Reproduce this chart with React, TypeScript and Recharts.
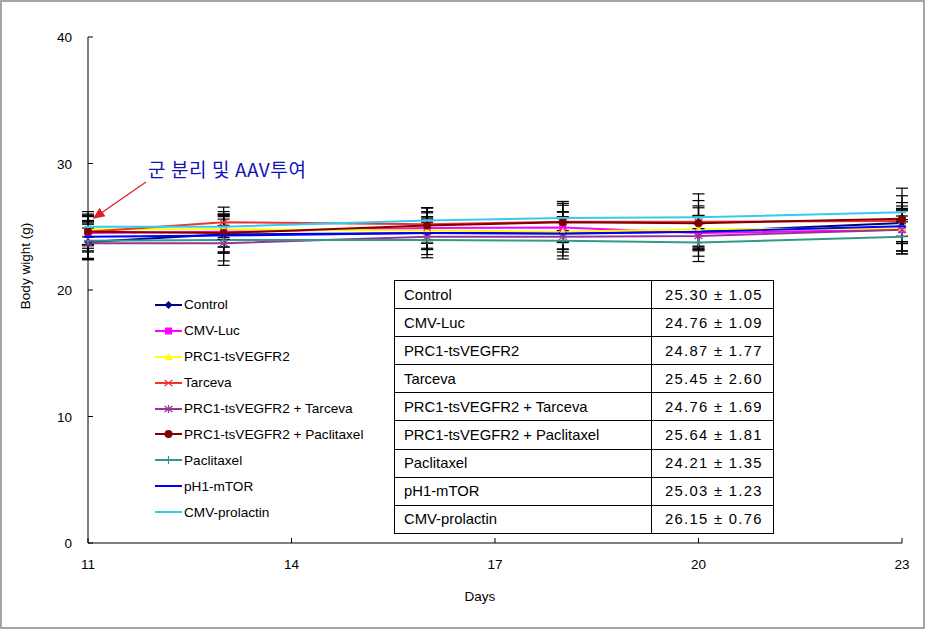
import { LineChart, Line, XAxis, YAxis, ErrorBar } from "recharts";

const days = [11, 13, 16, 18, 20, 23];

const control = [23.8, 24.4, 24.5, 24.5, 24.6, 25.3];
const controlSd = [1.4, 1.5, 1.3, 1.3, 1.3, 1.05];
const cmvLuc = [24.5, 24.6, 24.9, 24.95, 24.5, 24.76];
const cmvLucSd = [1.0, 1.2, 1.2, 1.2, 1.3, 1.09];
const prc1 = [24.8, 24.8, 24.7, 24.6, 24.8, 24.87];
const prc1Sd = [1.2, 1.4, 1.5, 1.6, 1.7, 1.77];
const tarceva = [24.6, 25.35, 25.2, 25.4, 25.4, 25.45];
const tarcevaSd = [1.6, 1.2, 1.3, 1.6, 2.2, 2.6];
const prc1Tarceva = [23.7, 23.7, 24.2, 24.2, 24.27, 24.76];
const prc1TarcevaSd = [1.2, 1.4, 1.4, 1.5, 1.6, 1.69];
const prc1Pac = [24.6, 24.5, 25.1, 25.35, 25.27, 25.64];
const prc1PacSd = [1.3, 1.5, 1.4, 1.5, 1.8, 1.81];
const paclitaxel = [23.9, 23.95, 23.95, 23.9, 23.75, 24.21];
const paclitaxelSd = [1.5, 2.0, 1.4, 1.45, 1.5, 1.35];
const ph1 = [24.2, 24.3, 24.5, 24.45, 24.6, 25.03];
const ph1Sd = [1.1, 1.3, 1.2, 1.2, 1.2, 1.23];
const prolactin = [25.0, 25.0, 25.5, 25.7, 25.75, 26.15];
const prolactinSd = [0.8, 1.0, 1.0, 1.0, 0.9, 0.76];

const tableLabels = [
  "25.30 ± 1.05",
  "24.76 ± 1.09",
  "24.87 ± 1.77",
  "25.45 ± 2.60",
  "24.76 ± 1.69",
  "25.64 ± 1.81",
  "24.21 ± 1.35",
  "25.03 ± 1.23",
  "26.15 ± 0.76",
];

const xTicks = [11, 14, 17, 20, 23];
const yTicks = [0, 10, 20, 30, 40];

const series = [
  { key: "s0", name: "Control", values: control, sd: controlSd, color: "#000080", shape: "diamond" },
  { key: "s1", name: "CMV-Luc", values: cmvLuc, sd: cmvLucSd, color: "#FF00FF", shape: "square" },
  { key: "s2", name: "PRC1-tsVEGFR2", values: prc1, sd: prc1Sd, color: "#FFFF00", shape: "triangle" },
  { key: "s3", name: "Tarceva", values: tarceva, sd: tarcevaSd, color: "#EE3333", shape: "x" },
  { key: "s4", name: "PRC1-tsVEGFR2 + Tarceva", values: prc1Tarceva, sd: prc1TarcevaSd, color: "#993399", shape: "star" },
  { key: "s5", name: "PRC1-tsVEGFR2 + Paclitaxel", values: prc1Pac, sd: prc1PacSd, color: "#800000", shape: "circle" },
  { key: "s6", name: "Paclitaxel", values: paclitaxel, sd: paclitaxelSd, color: "#339988", shape: "plus" },
  { key: "s7", name: "pH1-mTOR", values: ph1, sd: ph1Sd, color: "#0000FF", shape: "dash" },
  { key: "s8", name: "CMV-prolactin", values: prolactin, sd: prolactinSd, color: "#33CCEE", shape: "dash" },
];

const data = days.map((day, i) => {
  const row: Record<string, number> = { day };
  series.forEach((s) => {
    row[s.key] = s.values[i];
    row[s.key + "e"] = s.sd[i];
  });
  return row;
});

const FONT = '"Liberation Sans", Arial, "Noto Sans CJK KR", sans-serif';

function Marker({ cx, cy, shape, color }: any) {
  if (cx == null || cy == null) return null;
  switch (shape) {
    case "diamond":
      return (
        <polygon
          points={`${cx},${cy - 4} ${cx + 4},${cy} ${cx},${cy + 4} ${cx - 4},${cy}`}
          fill={color}
        />
      );
    case "square":
      return <rect x={cx - 3.5} y={cy - 3.5} width={7} height={7} fill={color} />;
    case "triangle":
      return (
        <polygon
          points={`${cx},${cy - 4} ${cx + 4},${cy + 3} ${cx - 4},${cy + 3}`}
          fill={color}
        />
      );
    case "x":
      return (
        <g stroke={color} strokeWidth={1.2}>
          <line x1={cx - 4} y1={cy - 3} x2={cx + 4} y2={cy + 3} />
          <line x1={cx - 4} y1={cy + 3} x2={cx + 4} y2={cy - 3} />
        </g>
      );
    case "star":
      return (
        <g stroke={color} strokeWidth={1.2}>
          <line x1={cx - 4} y1={cy - 3} x2={cx + 4} y2={cy + 3} />
          <line x1={cx - 4} y1={cy + 3} x2={cx + 4} y2={cy - 3} />
          <line x1={cx} y1={cy - 4} x2={cx} y2={cy + 4} />
        </g>
      );
    case "circle":
      return <circle cx={cx} cy={cy} r={4} fill={color} />;
    case "plus":
      return (
        <g stroke={color} strokeWidth={1.2}>
          <line x1={cx} y1={cy - 4} x2={cx} y2={cy + 4} />
          <line x1={cx - 4} y1={cy} x2={cx + 4} y2={cy} />
        </g>
      );
    default:
      return (
        <line x1={cx - 4} y1={cy} x2={cx + 4} y2={cy} stroke={color} strokeWidth={2} />
      );
  }
}

const YTick = ({ x, y, payload }: any) => (
  <g>
    <line x1={x} y1={y} x2={x + 5} y2={y} stroke="#000" />
    <text x={x - 16} y={y + 5} textAnchor="end" fontSize={13.5} fill="#000" fontFamily={FONT}>
      {payload.value}
    </text>
  </g>
);

const XTick = ({ x, y, payload }: any) => (
  <g>
    <line x1={x} y1={y} x2={x} y2={y - 5} stroke="#000" />
    <text x={x} y={y + 26} textAnchor="middle" fontSize={13.5} fill="#000" fontFamily={FONT}>
      {payload.value}
    </text>
  </g>
);

export default function App() {
  return (
    <div
      style={{
        position: "absolute",
        left: 0,
        top: 0,
        width: 925,
        height: 629,
        background: "#fff",
        fontFamily: FONT,
      }}
    >
      <LineChart
        width={925}
        height={629}
        data={data}
        margin={{ top: 37, right: 23, bottom: 56, left: 0 }}
      >
        <XAxis
          type="number"
          dataKey="day"
          domain={[11, 23]}
          ticks={xTicks}
          tickSize={0}
          tickMargin={0}
          tickLine={false}
          tick={<XTick />}
          height={30}
          stroke="#000"
          label={{
            value: "Days",
            position: "insideBottom",
            dy: 33,
            dx: -15,
            fontSize: 13.5,
            fill: "#000",
            fontFamily: FONT,
          }}
        />
        <YAxis
          type="number"
          domain={[0, 40]}
          ticks={yTicks}
          tickSize={0}
          tickMargin={0}
          tickLine={false}
          tick={<YTick />}
          width={88}
          stroke="#000"
          label={{
            value: "Body wight (g)",
            angle: -90,
            position: "insideLeft",
            dx: 20,
            dy: -24,
            fontSize: 13.5,
            fill: "#000",
            fontFamily: FONT,
            style: { textAnchor: "middle" },
          }}
        />
        {series.map((s) => (
          <Line
            key={s.key}
            dataKey={s.key}
            name={s.name}
            stroke={s.color}
            strokeWidth={2}
            isAnimationActive={false}
            dot={(p: any) => (
              <Marker key={`${s.key}-${p.index}`} cx={p.cx} cy={p.cy} shape={s.shape} color={s.color} />
            )}
            activeDot={false}
          >
            <ErrorBar
              dataKey={s.key + "e"}
              direction="y"
              width={6}
              stroke="#000"
              strokeWidth={1.2}
              isAnimationActive={false}
            />
          </Line>
        ))}
      </LineChart>

      {/* annotation */}
      <div
        style={{
          position: "absolute",
          left: 148,
          top: 157,
          fontSize: 19,
          letterSpacing: 0.6,
          color: "#1414B4",
          fontFamily: '"Noto Sans CJK KR", sans-serif',
          whiteSpace: "nowrap",
          lineHeight: "24px",
        }}
      >
        군 분리 및 AAV투여
      </div>
      <svg
        width={925}
        height={629}
        style={{ position: "absolute", left: 0, top: 0, pointerEvents: "none" }}
      >
        <defs>
          <marker id="arr" markerWidth="10" markerHeight="10" refX="8" refY="5" orient="auto">
            <path d="M0,1 L9,5 L0,9 z" fill="#E02020" />
          </marker>
        </defs>
        <line x1={146} y1={182} x2={94} y2={218} stroke="#E02020" strokeWidth={1.3} markerEnd="url(#arr)" />
        <rect x={1} y={1} width={923} height={627} fill="none" stroke="#A6A6A6" strokeWidth={2} />
      </svg>

      {/* legend */}
      <div style={{ position: "absolute", left: 155, top: 292 }}>
        {series.map((s) => (
          <div key={s.key} style={{ height: 25.9, display: "flex", alignItems: "center" }}>
            <svg width={28} height={12}>
              <line x1={0} y1={6} x2={27} y2={6} stroke={s.color} strokeWidth={2} />
              <Marker cx={13.5} cy={6} shape={s.shape} color={s.color} />
            </svg>
            <span style={{ fontSize: 13.6, marginLeft: 1, color: "#000" }}>{s.name}</span>
          </div>
        ))}
      </div>

      {/* summary table */}
      <table
        style={{
          position: "absolute",
          left: 394,
          top: 280,
          width: 380,
          borderCollapse: "collapse",
          fontSize: 14.8,
          color: "#000",
        }}
      >
        <tbody>
          {series.map((s, i) => (
            <tr key={s.key} style={{ height: 28.1 }}>
              <td style={{ border: "1px solid #000", padding: "0 0 0 9px", width: 247 }}>{s.name}</td>
              <td style={{ border: "1px solid #000", padding: "0 0 0 13px", letterSpacing: 1.3 }}>
                {tableLabels[i]}
              </td>
            </tr>
          ))}
        </tbody>
      </table>
    </div>
  );
}
